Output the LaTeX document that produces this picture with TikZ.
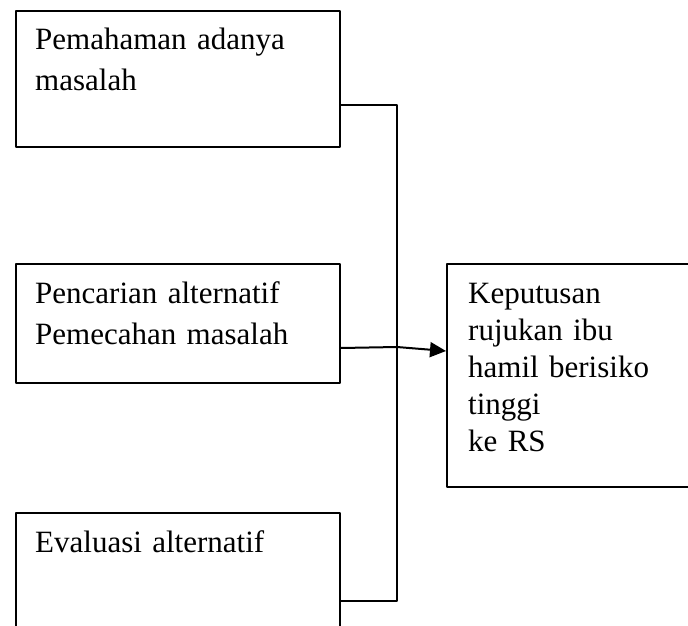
\documentclass[tikz,border=0pt]{standalone}
\usepackage{fontspec}
\setmainfont{Liberation Serif}
\usetikzlibrary{arrows.meta}
\begin{document}
\begin{tikzpicture}[x=1pt,y=-1pt,line join=round,
	box/.style={draw,line width=2pt,minimum width=324pt,anchor=north west,inner sep=0pt},
	txt/.style={anchor=base west,inner sep=0pt,text width=300pt,align=left,font=\fontsize{31}{41}\selectfont},
	link/.style={line width=2pt}]
	\useasboundingbox (0,0) rectangle (688,626);
	\clip (0,0) rectangle (688,626);
	\node[box,minimum height=136pt] (pemahaman) at (15,10) {};
	\node[box,minimum height=119pt] (pencarian) at (15,263) {};
	\node[box,minimum height=130pt] (evaluasi) at (15,512) {};
	\node[box,minimum width=260pt,minimum height=223pt] (keputusan) at (446,263) {};
	\node[txt] (t1) at ([xshift=20pt,yshift=-39pt]pemahaman.north west) {Pemahaman adanya\\masalah};
	\node[txt] (t2) at ([xshift=20pt,yshift=-40pt]pencarian.north west) {Pencarian alternatif\\Pemecahan masalah};
	\node[txt] (t3) at ([xshift=20pt,yshift=-40pt]evaluasi.north west) {Evaluasi alternatif};
	\node[txt,text width=220pt,font=\fontsize{31}{37}\selectfont] (t4) at ([xshift=22pt,yshift=-40pt]keputusan.north west) {Keputusan\\rujukan ibu\\hamil berisiko\\tinggi\\ke RS};
	\coordinate (bus) at (397,347);
	\draw[link] ([yshift=-26pt]pemahaman.east) -| (bus);
	\draw[link] ([yshift=-23pt]evaluasi.east) -| (bus);
	\draw[link] ([yshift=-24.5pt]pencarian.east) -- (bus);
	\draw[link,-{Triangle[length=16pt,width=15pt]}] (bus) -- ([yshift=24.5pt]keputusan.west);
\end{tikzpicture}
\end{document}
